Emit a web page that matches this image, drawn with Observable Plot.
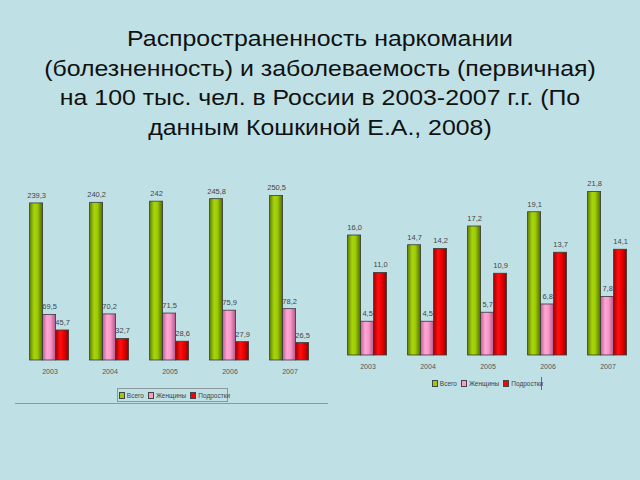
<!DOCTYPE html>
<html><head><meta charset="utf-8">
<script src="https://cdn.jsdelivr.net/npm/d3@7"></script>
<script src="https://cdn.jsdelivr.net/npm/@observablehq/plot@0.6"></script>
<style>
html,body{margin:0;padding:0;}
body{width:640px;height:480px;background:#bfe1e5;position:relative;overflow:hidden;font-family:"Liberation Sans",Arial,sans-serif;}
#title{position:absolute;left:0;top:24px;width:640px;text-align:center;font-size:22px;line-height:29.5px;color:#111;transform:scaleX(1.13);transform-origin:50% 0;}
.chart{position:absolute;top:180px;}
.legend{position:absolute;font-size:6.5px;color:#444;display:flex;align-items:center;white-space:nowrap;box-sizing:border-box;}
.legend .sw{display:inline-block;flex:0 0 auto;width:4px;height:5px;border:1px solid #444;margin:0 2px 0 4px;}
</style></head>
<body>
<svg width="0" height="0" style="position:absolute">
<defs>
<linearGradient id="gGreen" x1="0" x2="1" y1="0" y2="0">
<stop offset="0" stop-color="#5f8000"/><stop offset="0.35" stop-color="#a8d410"/><stop offset="0.6" stop-color="#9ccc00"/><stop offset="1" stop-color="#4d6a00"/>
</linearGradient>
<linearGradient id="gPink" x1="0" x2="1" y1="0" y2="0">
<stop offset="0" stop-color="#c0609a"/><stop offset="0.35" stop-color="#ffa8d4"/><stop offset="0.6" stop-color="#f899c8"/><stop offset="1" stop-color="#b0588c"/>
</linearGradient>
<linearGradient id="gRed" x1="0" x2="1" y1="0" y2="0">
<stop offset="0" stop-color="#a00000"/><stop offset="0.35" stop-color="#ff1010"/><stop offset="0.6" stop-color="#f00000"/><stop offset="1" stop-color="#900000"/>
</linearGradient>
</defs>
</svg>
<div id="title">Распространенность наркомании<br>(болезненность) и заболеваемость (первичная)<br>на 100 тыс. чел. в России в 2003-2007 г.г. (По<br>данным Кошкиной Е.А., 2008)</div>
<div id="left" class="chart" style="left:0px"></div>
<div id="right" class="chart" style="left:330px"></div>
<div style="position:absolute;left:15px;top:403px;width:313px;height:1px;background:#8a9a9c"></div>
<div class="legend" style="left:117px;top:388px;width:111px;height:14px;border:1px solid #8a9a9c;justify-content:center;">
<span class="sw" style="background:#9ccc00"></span>Всего<span class="sw" style="background:#ff99cc"></span>Женщины<span class="sw" style="background:#ff0000"></span>Подростки</div>
<div class="legend" style="left:430px;top:377px;width:112px;height:13px;border-right:1px solid #666;justify-content:center;">
<span class="sw" style="background:#9ccc00"></span>Всего<span class="sw" style="background:#ff99cc"></span>Женщины<span class="sw" style="background:#ff0000"></span>Подростки</div>
<script>
const years = ["2003", "2004", "2005", "2006", "2007"];
const seriesNames = ["Всего", "Женщины", "Подростки"];
const prevalenceTotal = [239.3, 240.2, 242, 245.8, 250.5];
const prevalenceWomen = [69.5, 70.2, 71.5, 75.9, 78.2];
const prevalenceTeens = [45.7, 32.7, 28.6, 27.9, 26.5];
const incidenceTotal = [16.0, 14.7, 17.2, 19.1, 21.8];
const incidenceWomen = [4.5, 4.5, 5.7, 6.8, 7.8];
const incidenceTeens = [11.0, 14.2, 10.9, 13.7, 14.1];

const fills = {"Всего": "url(#gGreen)", "Женщины": "url(#gPink)", "Подростки": "url(#gRed)"};
const fmt = v => ((v >= 100 && Number.isInteger(v)) ? String(v) : v.toFixed(1)).replace(".", ",");

function rows(a, b, c) {
  const out = [];
  years.forEach((y, i) => {
    out.push({year: y, series: seriesNames[0], value: a[i]});
    out.push({year: y, series: seriesNames[1], value: b[i]});
    out.push({year: y, series: seriesNames[2], value: c[i]});
  });
  return out;
}

function chart(data, opts) {
  const marks = seriesNames.map(s => Plot.barY(data.filter(d => d.series === s), {
    fx: "year", x: "series", y: "value", fill: fills[s], stroke: "#3a3a3a", strokeWidth: 0.8
  }));
  marks.push(Plot.text(data, {fx: "year", x: "series", y: "value", text: d => fmt(d.value),
    dy: -8, fontSize: 7.5, fill: "#444"}));
  marks.push(Plot.text(years, {fx: d => d, text: d => d, frameAnchor: "bottom", dy: opts.yearDy, fontSize: 7, fill: "#555"}));
  return Plot.plot({
    width: opts.width, height: opts.height,
    marginLeft: opts.ml, marginRight: opts.mr, marginTop: opts.mt, marginBottom: opts.mb,
    style: {background: "transparent", fontFamily: "Liberation Sans, Arial, sans-serif"},
    fx: {domain: years, paddingInner: 0.32, paddingOuter: 0.16, axis: null},
    x: {domain: seriesNames, padding: 0, axis: null},
    y: {domain: [0, opts.ymax], axis: null},
    marks
  });
}

document.getElementById("left").append(chart(rows(prevalenceTotal, prevalenceWomen, prevalenceTeens),
  {width: 330, height: 205, ml: 19.4, mr: 10.6, mt: 10, mb: 25, ymax: 259, yearDy: 13}));
document.getElementById("right").append(chart(rows(incidenceTotal, incidenceWomen, incidenceTeens),
  {width: 310, height: 205, ml: 7.4, mr: 2.6, mt: 10, mb: 30, ymax: 22, yearDy: 13}));
</script>
</body></html>
